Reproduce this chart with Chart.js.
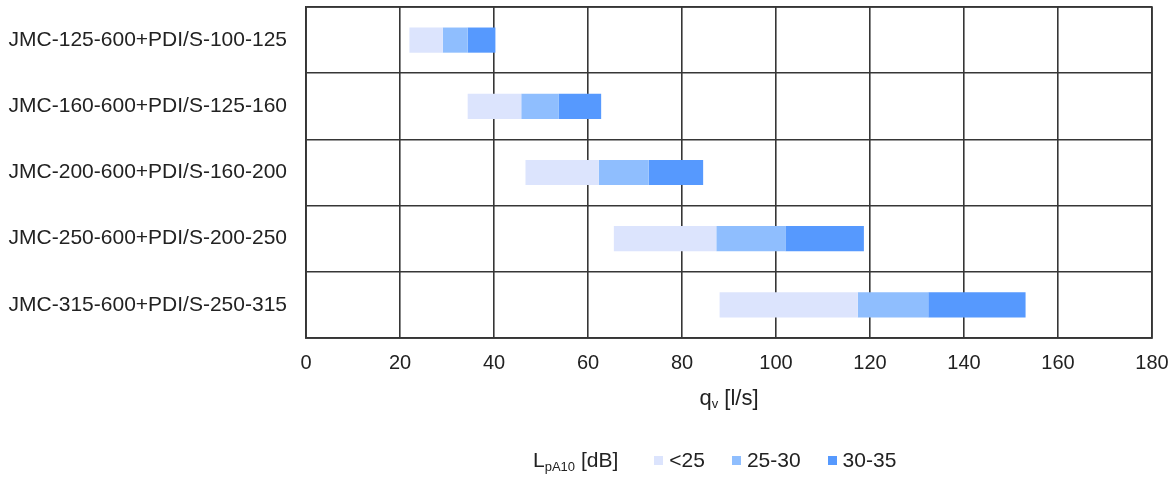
<!DOCTYPE html>
<html>
<head>
<meta charset="utf-8">
<script src="https://cdn.jsdelivr.net/npm/chart.js@4.4.1/dist/chart.umd.min.js"></script>
<style>
  html, body { margin: 0; padding: 0; background: #fff; }
  #wrap { position: relative; width: 1174px; height: 477px; font-family: "Liberation Sans", Arial, sans-serif; color: #222; }
  #c { position: absolute; left: 0; top: 0; }
  #xtitle { position: absolute; top: 385px; left: 0; width: 100%; text-align: center; font-size: 22px; line-height: 26px; padding-left: 306px; padding-right: 22px; box-sizing: border-box; }
  sub { line-height: 0; }
  #xtitle sub { font-size: 13px; vertical-align: -3px; }
  #legend sub { font-size: 13px; vertical-align: -4px; }
  #legend { position: absolute; top: 447px; left: 533px; display: flex; align-items: center; font-size: 21px; line-height: 26px; white-space: nowrap; }
  #legend .lbl { margin-right: 36px; }
  #legend .item { display: flex; align-items: center; margin-right: 27px; }
  #legend .box { width: 9px; height: 9px; margin-right: 6px; }
</style>
</head>
<body>
<div id="wrap">
  <canvas id="c" width="1174" height="477"></canvas>
  <div id="xtitle">q<sub>v</sub> [l/s]</div>
  <div id="legend"></div>
</div>
<script>
const categories = [
  "JMC-125-600+PDI/S-100-125",
  "JMC-160-600+PDI/S-125-160",
  "JMC-200-600+PDI/S-160-200",
  "JMC-250-600+PDI/S-200-250",
  "JMC-315-600+PDI/S-250-315"
];
const seriesNames = ["<25", "25-30", "30-35"];
const seriesColors = ["#dce4fd", "#8fbefe", "#5699fe"];
// boundaries of the flow ranges [start, end of <25, end of 25-30, end of 30-35]
const rangeStart = [22.0, 34.4, 46.7, 65.5, 88.0];
const end25     = [29.1, 45.8, 62.3, 87.3, 117.4];
const end30     = [34.4, 53.8, 72.9, 102.0, 132.4];
const end35     = [40.3, 62.8, 84.5, 118.7, 153.1];
const xTicks = [0, 20, 40, 60, 80, 100, 120, 140, 160, 180];

const bounds = [rangeStart, end25, end30, end35];
const datasets = seriesNames.map((name, s) => ({
  label: name,
  data: categories.map((_, i) => [bounds[s][i], bounds[s + 1][i]]),
  backgroundColor: seriesColors[s],
  borderWidth: 0,
  barPercentage: 0.38,
  categoryPercentage: 1.0,
  grouped: false
}));

const gridColor = "#363636";
new Chart(document.getElementById("c"), {
  type: "bar",
  data: { labels: categories, datasets },
  options: {
    indexAxis: "y",
    responsive: false,
    animation: false,
    layout: { padding: { top: 7, right: 22, left: 0, bottom: 0 } },
    plugins: { legend: { display: false }, tooltip: { enabled: false } },
    scales: {
      x: {
        min: 0, max: 180,
        afterBuildTicks: (axis) => { axis.ticks = xTicks.map(v => ({ value: v })); },
        afterFit: (scale) => { scale.height = 139; scale.paddingLeft = 0; scale.paddingRight = 0; },
        grid: { color: gridColor, lineWidth: 1.6, drawTicks: false },
        border: { color: gridColor, width: 1.6 },
        ticks: { padding: 13, color: "#222", font: { family: "Liberation Sans", size: 20 } }
      },
      y: {
        afterFit: (scale) => { scale.width = 306; scale.paddingTop = 0; scale.paddingBottom = 0; },
        grid: { color: gridColor, lineWidth: 1.6, drawTicks: false, offset: true },
        border: { color: gridColor, width: 1.6 },
        ticks: { padding: 19, color: "#222", font: { family: "Liberation Sans", size: 21 } }
      }
    }
  },
  plugins: [{
    id: "rightTopBorder",
    afterDraw(chart) {
      const { ctx, chartArea: a } = chart;
      ctx.save();
      ctx.strokeStyle = gridColor;
      ctx.lineWidth = 1.6;
      ctx.strokeRect(a.left, a.top, a.right - a.left, a.bottom - a.top);
      ctx.restore();
    }
  }]
});

const legend = document.getElementById("legend");
legend.innerHTML = '<span class="lbl">L<sub>pA10</sub> [dB]</span>' +
  seriesNames.map((n, i) => '<span class="item"><span class="box" style="background:' + seriesColors[i] + '"></span>' + n.replace("<", "&lt;") + '</span>').join("");
</script>
</body>
</html>
